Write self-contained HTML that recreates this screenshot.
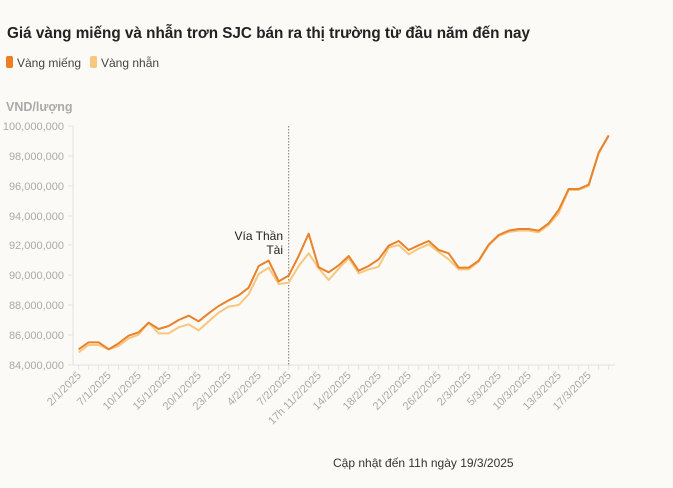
<!DOCTYPE html>
<html><head><meta charset="utf-8"><style>
body{margin:0;background:#fbfaf7;width:673px;height:488px;overflow:hidden;font-family:"Liberation Sans",sans-serif;}
</style></head><body>
<svg width="673" height="488" xmlns="http://www.w3.org/2000/svg" style="position:absolute;left:0;top:0">
<rect width="673" height="488" fill="#fbfaf7"/>
<text x="7" y="38" font-size="16" font-weight="bold" fill="#222" textLength="523" lengthAdjust="spacingAndGlyphs">Giá vàng miếng và nhẫn trơn SJC bán ra thị trường từ đầu năm đến nay</text>
<rect x="6" y="56" width="7" height="12" rx="2" fill="#ef7d22"/>
<text x="17" y="67" font-size="12" fill="#444">Vàng miếng</text>
<rect x="90" y="56" width="7" height="12" rx="2" fill="#f8c77e"/>
<text x="101" y="67" font-size="12" fill="#444">Vàng nhẫn</text>
<text x="6" y="111" font-size="12.5" font-weight="bold" fill="#aaa">VND/lượng</text>
<g font-size="11" fill="#aaa" text-anchor="end">
<text x="64" y="130">100,000,000</text>
<text x="64" y="160">98,000,000</text>
<text x="64" y="190">96,000,000</text>
<text x="64" y="220">94,000,000</text>
<text x="64" y="249">92,000,000</text>
<text x="64" y="279">90,000,000</text>
<text x="64" y="309">88,000,000</text>
<text x="64" y="339">86,000,000</text>
<text x="64" y="369">84,000,000</text>
</g>
<g stroke="#e2e2e2" stroke-width="1">
<line x1="68" y1="126" x2="73" y2="126"/><line x1="68" y1="156" x2="73" y2="156"/><line x1="68" y1="186" x2="73" y2="186"/><line x1="68" y1="216" x2="73" y2="216"/><line x1="68" y1="245" x2="73" y2="245"/><line x1="68" y1="275" x2="73" y2="275"/><line x1="68" y1="305" x2="73" y2="305"/><line x1="68" y1="335" x2="73" y2="335"/>
<line x1="73" y1="126" x2="73" y2="365"/>
<line x1="68" y1="365" x2="615" y2="365"/>
</g>
<g id="ticks" stroke="#e2e2e2"></g>
<line x1="288.7" y1="126" x2="288.7" y2="365" stroke="#777" stroke-dasharray="1.5,1.5"/>
<text x="283" y="240" font-size="12" fill="#222" text-anchor="end">Vía Thần</text>
<text x="283" y="254" font-size="12" fill="#222" text-anchor="end">Tài</text>
<g transform="translate(0,110) scale(0.33333)" fill="none" stroke-linejoin="round">
<polyline vector-effect="non-scaling-stroke" stroke="#f8c77e" stroke-width="2" points="236,727 266,705 296,705 326,718 356,708 386,685 416,674 446,638 476,670 506,670 536,652 566,643 596,661 626,634 656,608 686,590 716,585 746,553 776,492 806,473 836,522 866,518 896,468 926,430 956,475 986,510 1016,476 1046,445 1076,490 1106,478 1136,470 1166,413 1196,405 1226,433 1256,416 1286,403 1316,426 1346,448 1376,478 1406,478 1436,455 1466,406 1496,378 1526,366 1556,362 1586,362 1616,367 1646,345 1676,310 1706,240 1736,240 1766,228 1796,130 1826,78"/>
<polyline vector-effect="non-scaling-stroke" stroke="#e8822c" stroke-width="2" points="236,718 266,697 296,697 326,718 356,700 386,677 416,667 446,638 476,657 506,648 536,630 566,617 596,634 626,610 656,588 686,571 716,556 746,533 776,468 806,452 836,514 866,497 896,438 926,371 956,472 986,487 1016,466 1046,438 1076,482 1106,468 1136,448 1166,407 1196,393 1226,420 1256,406 1286,393 1316,420 1346,430 1376,473 1406,473 1436,452 1466,404 1496,375 1526,362 1556,357 1586,357 1616,362 1646,340 1676,300 1706,237 1736,237 1766,224 1796,128 1826,76"/>
</g>
<g id="labels" font-size="11" fill="#aaa" text-anchor="end"></g>
<text x="333" y="467" font-size="12" fill="#333">Cập nhật đến 11h ngày 19/3/2025</text>
<script>
var t=document.getElementById('ticks'),l=document.getElementById('labels'),ns="http://www.w3.org/2000/svg";
for(var i=0;i<54;i++){var x=78.7+10*i;var e=document.createElementNS(ns,'line');e.setAttribute('x1',x);e.setAttribute('x2',x);e.setAttribute('y1',365);e.setAttribute('y2',370);t.appendChild(e);}
var labs={0:"2/1/2025",3:"7/1/2025",6:"10/1/2025",9:"15/1/2025",12:"20/1/2025",15:"23/1/2025",18:"4/2/2025",21:"7/2/2025",24:"17h 11/2/2025",27:"14/2/2025",30:"18/2/2025",33:"21/2/2025",36:"26/2/2025",39:"2/3/2025",42:"5/3/2025",45:"10/3/2025",48:"13/3/2025",51:"17/3/2025"};
for(var k in labs){var x=78.7+10*k+3,y=376;var e=document.createElementNS(ns,'text');e.setAttribute('x',x);e.setAttribute('y',y);e.setAttribute('transform','rotate(-45 '+x+' '+y+')');e.textContent=labs[k];l.appendChild(e);}
</script>
</svg>
</body></html>
